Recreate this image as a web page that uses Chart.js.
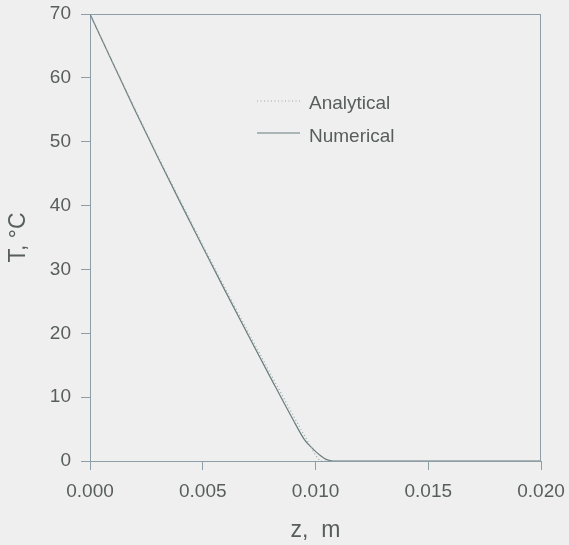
<!DOCTYPE html>
<html>
<head>
<meta charset="utf-8">
<script src="https://cdn.jsdelivr.net/npm/chart.js@4.4.1/dist/chart.umd.min.js"></script>
<style>
  html, body { margin: 0; padding: 0; background: #efefef; }
  #wrap { width: 569px; height: 545px; position: relative; }
</style>
</head>
<body>
<div id="wrap"><canvas id="c" width="569" height="545"></canvas></div>
<script>
// Data
const seriesNames = ["Analytical", "Numerical"];
const analyticalZ = [0, 0.001, 0.002, 0.003, 0.004, 0.005, 0.006, 0.007, 0.008, 0.009, 0.010, 0.0102, 0.020];
const analyticalT = [70, 62.5, 55.1, 47.8, 40.8, 33.8, 27.0, 20.3, 13.7, 7.2, 0.9, 0, 0];
const numericalZ = [0, 0.001, 0.002, 0.003, 0.004, 0.005, 0.006, 0.007, 0.008, 0.009, 0.0095, 0.0098, 0.010, 0.0102, 0.0104, 0.0106, 0.0108, 0.020];
const numericalT = [70, 62.4, 54.9, 47.6, 40.5, 33.5, 26.6, 19.8, 13.1, 6.5, 3.4, 2.2, 1.5, 0.9, 0.4, 0.1, 0, 0];
const xTicks = [0, 0.005, 0.010, 0.015, 0.020];
const yTicks = [0, 10, 20, 30, 40, 50, 60, 70];
const xTitle = "z,  m";
const yTitle = "T, °C";

const axisColor = '#8d9ea6';
const textColor = '#575e5b';
const lineColor = '#6a7c7d';
const FONT = 'Liberation Sans, Arial, sans-serif';

function pts(xs, ys) { return xs.map((x, i) => ({ x: x, y: ys[i] })); }

const frame = {
  id: 'frame',
  afterDraw(chart) {
    const { ctx, chartArea: a } = chart;
    ctx.save();
    ctx.strokeStyle = axisColor;
    ctx.lineWidth = 1;
    ctx.beginPath();
    ctx.moveTo(a.left, a.top + 0.5); ctx.lineTo(a.right, a.top + 0.5);
    ctx.moveTo(a.right - 0.5, a.top); ctx.lineTo(a.right - 0.5, a.bottom);
    ctx.stroke();
    ctx.restore();
  }
};

const innerLegend = {
  id: 'innerLegend',
  afterDraw(chart) {
    const { ctx, chartArea: a } = chart;
    ctx.save();
    ctx.font = '19px ' + FONT;
    ctx.textBaseline = 'middle';
    ctx.fillStyle = textColor;
    chart.data.datasets.forEach((ds, i) => {
      const y = a.top + 87 + i * 32;
      ctx.strokeStyle = ds.borderColor;
      ctx.lineWidth = ds.borderWidth;
      ctx.setLineDash(ds.borderDash || []);
      ctx.beginPath();
      ctx.moveTo(a.left + 167, y);
      ctx.lineTo(a.left + 210, y);
      ctx.stroke();
      ctx.setLineDash([]);
      ctx.fillText(ds.label, a.left + 219, y + 3 + i);
    });
    ctx.restore();
  }
};

new Chart(document.getElementById('c'), {
  type: 'scatter',
  data: {
    datasets: [
      {
        label: seriesNames[0],
        data: pts(analyticalZ, analyticalT),
        showLine: true,
        borderColor: '#9aa8a6',
        borderWidth: 1.2,
        borderDash: [1, 2.5],
        pointRadius: 0,
        fill: false
      },
      {
        label: seriesNames[1],
        data: pts(numericalZ, numericalT),
        showLine: true,
        borderColor: lineColor,
        borderWidth: 1.2,
        cubicInterpolationMode: 'monotone',
        pointRadius: 0,
        fill: false
      }
    ]
  },
  options: {
    responsive: false,
    animation: false,
    events: [],
    layout: { padding: { top: 14, right: 28, left: 0, bottom: 0 } },
    plugins: { legend: { display: false }, tooltip: { enabled: false } },
    scales: {
      x: {
        type: 'linear',
        min: 0, max: 0.02,
        afterBuildTicks(scale) { scale.ticks = xTicks.map(v => ({ value: v })); },
        afterFit(scale) { scale.height = 84; scale.paddingLeft = 0; scale.paddingRight = 0; },
        ticks: {
          color: textColor,
          font: { family: FONT, size: 19 },
          padding: 10,
          callback: v => Number(v).toFixed(3)
        },
        grid: { display: true, drawOnChartArea: false, drawTicks: true, tickLength: 9, color: axisColor },
        border: { display: true, color: axisColor, width: 1 },
        title: { display: true, text: xTitle, color: textColor, font: { family: FONT, size: 23 }, padding: { top: 0, bottom: 1 } }
      },
      y: {
        type: 'linear',
        min: 0, max: 70,
        afterBuildTicks(scale) { scale.ticks = yTicks.map(v => ({ value: v })); },
        afterFit(scale) { scale.width = 90; scale.paddingTop = 0; scale.paddingBottom = 0; },
        ticks: {
          color: textColor,
          font: { family: FONT, size: 19 },
          padding: 10
        },
        grid: { display: true, drawOnChartArea: false, drawTicks: true, tickLength: 9, color: axisColor },
        border: { display: true, color: axisColor, width: 1 },
        title: { display: true, text: yTitle, color: textColor, font: { family: FONT, size: 23 }, padding: { top: 5, bottom: 0 } }
      }
    }
  },
  plugins: [frame, innerLegend]
});
</script>
</body>
</html>
